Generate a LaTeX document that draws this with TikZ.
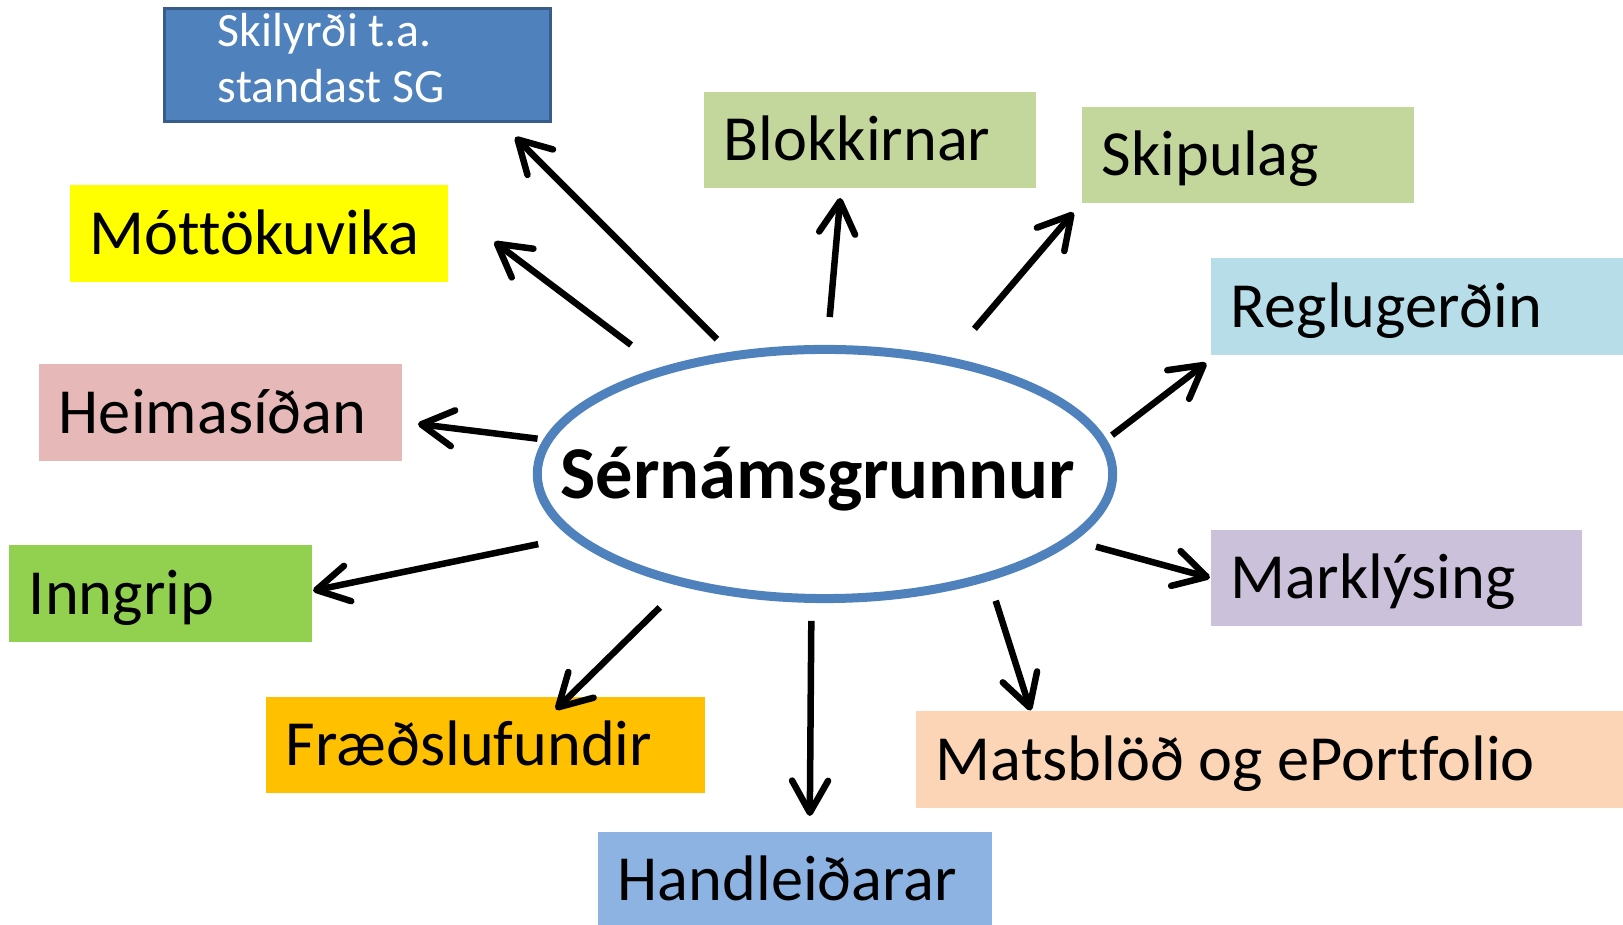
\documentclass[tikz,border=0pt]{standalone}
\usepackage{fontspec}
\setmainfont{Carlito}[Ligatures=NoCommon]
\usetikzlibrary{shapes.geometric,arrows.meta}

\definecolor{sgblue}{HTML}{4F81BD}
\definecolor{sgdark}{HTML}{385D8A}
\definecolor{mottcol}{HTML}{FFFF00}
\definecolor{heimcol}{HTML}{E6B9B8}
\definecolor{inngcol}{HTML}{92D050}
\definecolor{fraedcol}{HTML}{FFC000}
\definecolor{handcol}{HTML}{8DB3E2}
\definecolor{matscol}{HTML}{FBD5B5}
\definecolor{markcol}{HTML}{CCC1DA}
\definecolor{reglcol}{HTML}{B7DDE8}
\definecolor{olivecol}{HTML}{C3D69B}

\tikzset{
        box/.style 2 args={fill=#1, text width=#2, align=left, inner xsep=0.2cm,
                inner ysep=0pt, minimum height=0.96cm, outer sep=0pt,
                text height=0.41cm, text depth=0pt, font=\fontsize{18.3}{21}\selectfont,
                execute at begin node={\spaceskip=0pt\xspaceskip=0pt}},
        arr/.style={line width=0.065cm, -{Straight Barb[length=0.32cm,width=0.36cm,round]}}
}

\begin{document}
\begin{tikzpicture}[x=0.01cm, y=-0.01cm]

        \useasboundingbox (0,0) rectangle (1623,925);

        % centre
        \node[ellipse, draw=sgblue, line width=0.09cm, fill=white, minimum width=5.75cm,
                minimum height=2.49cm, inner xsep=-0.7cm, inner ysep=0pt,
                text height=0.48cm, text depth=0pt,
                font=\bfseries\fontsize{21.2}{24}\selectfont] (sg) at (825,474) {Sérnámsgrunnur\kern0.14cm};

        % boxes
        \node[fill=sgblue, draw=sgdark, line width=0.03cm, text=white, text width=2.79cm,
                align=left, inner xsep=0.535cm, inner ysep=0pt, minimum height=1.13cm,
                text height=0.31cm, text depth=0.67cm,
                execute at begin node={\spaceskip=0pt\xspaceskip=0pt},
                font=\fontsize{13.6}{15.8}\selectfont] (skil) at (357.5,65) {Skilyrði t.a.\\standast SG};
        \node[box={mottcol}{3.38cm}] (mott) at (259,233.5) {Móttökuvika};
        \node[box={heimcol}{3.23cm}] (heim) at (220.5,412.5) {Heimasíðan};
        \node[box={inngcol}{2.63cm}] (inng) at (160.5,593.5) {Inngrip};
        \node[box={fraedcol}{3.99cm}] (fraed) at (485.5,745) {Fræðslufundir};
        \node[box={handcol}{3.54cm}] (hand) at (795,880) {Handleiðarar};
        \node[box={matscol}{6.84cm}] (mats) at (1278,759.5) {Matsblöð og ePortfolio};
        \node[box={markcol}{3.31cm}] (mark) at (1396.5,578) {Marklýsing};
        \node[box={reglcol}{3.89cm}] (regl) at (1425.5,306.5) {Reglugerðin};
        \node[box={olivecol}{2.92cm}] (skip) at (1248,155) {Skipulag};
        \node[box={olivecol}{2.92cm}] (blok) at (870,140) {Blokkirnar};

        % arrows
        \foreach \a/\b/\s/\t in {128/skil.-22/0.18cm/0.20cm, 147/mott.8/0.37cm/0.58cm,
                173/heim.-3/0.06cm/0.16cm, -166/inng.1/0.33cm/0.01cm,
                218/fraed.30/0.30cm/-0.18cm, 264/hand.73/0.18cm/0.16cm,
                -33/mats.169/0.21cm/0.01cm, -15/mark.180/0.22cm/0.01cm,
                7/regl.-167/0.07cm/0.14cm, 43/skip.-164/0.375cm/0.13cm,
                89/blok.-121/0.28cm/0.10cm}
        {
                \draw[arr, shorten <=\s, shorten >=\t] (sg.\a) -- (\b);
        }

\end{tikzpicture}
\end{document}
